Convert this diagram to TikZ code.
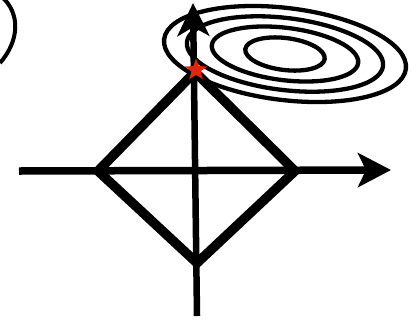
\documentclass[tikz,border=0pt]{standalone}
\usetikzlibrary{arrows.meta,shapes.geometric}
\definecolor{starred}{RGB}{226,38,8}
\begin{document}
\begin{tikzpicture}[x=1pt,y=-1pt,
  haxis/.style={line width=7.5pt,-{Stealth[length=33pt,width=34pt,inset=8pt]}},
  vaxis/.style={line width=6.5pt,-{Stealth[length=33pt,width=32pt,inset=9pt]}},
  rhombus/.style={line width=9.5pt,line join=miter},
  contour/.style={line width=4.3pt},
  bracket/.style={line width=4pt},
  minstar/.style={star,star points=5,star point ratio=2.4,minimum size=23pt,inner sep=0pt,fill=starred,draw=none}]
\useasboundingbox (0,0) rectangle (417,322);
\clip (0,0) rectangle (417,322);
% partial bracket at top left
\coordinate (p1) at (2,-3);
\coordinate (p2) at (0,63);
\draw[bracket] (p1) .. controls (20,13) and (20,40) .. (p2);
% level sets
\coordinate (c) at (285,54);
\draw[contour,rotate around={-7:(c)}] (c) ellipse [x radius=121.8pt,y radius=46pt];
\draw[contour,rotate around={-7:(c)}] (c) ellipse [x radius=98.8pt,y radius=36pt];
\draw[contour,rotate around={-7:(c)}] (c) ellipse [x radius=73.7pt,y radius=26.2pt];
\draw[contour,rotate around={-7:(c)}] (c) ellipse [x radius=40pt,y radius=16pt];
% diamond
\coordinate (dl) at (98,171);
\coordinate (dt) at (195,72);
\coordinate (dr) at (295,171);
\coordinate (db) at (197,263);
\draw[rhombus] (dl) -- (dt) -- (dr) -- (db) -- cycle;
% axes
\coordinate (xl) at (19,171);
\coordinate (xr) at (391,170);
\coordinate (yb) at (197,316);
\coordinate (yt) at (193,3);
\draw[haxis] (xl) -- (xr);
\draw[vaxis] (yb) -- (yt);
% solution
\node[minstar] (s) at (196,70) {};
\end{tikzpicture}
\end{document}
